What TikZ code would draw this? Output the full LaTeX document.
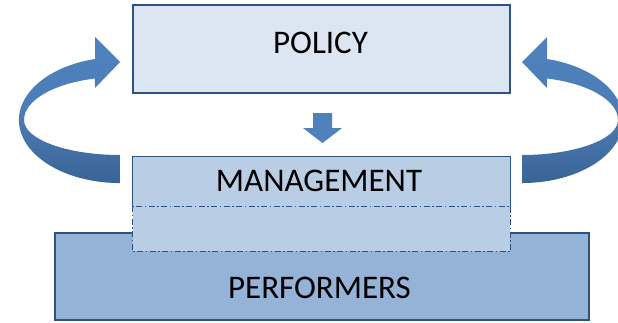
\documentclass[tikz,border=0pt]{standalone}
\usepackage{fontspec}
\setmainfont{Carlito}
\usetikzlibrary{positioning}

\begin{document}
\begin{tikzpicture}[x=1pt, y=1pt,
        box/.style={rectangle, inner sep=0pt, line width=1.3pt, draw=rama},
        eticheta/.style={inner sep=0pt, font=\fontsize{33}{40}\selectfont},
        puncte/.style={line width=1.3pt, draw=rama, dash pattern=on 6pt off 2.5pt on 1.5pt off 2.5pt}]
        \definecolor{rama}{HTML}{2E5186}
        \definecolor{cer}{HTML}{DCE6F2}
        \definecolor{mijloc}{HTML}{B9CDE5}
        \definecolor{jos}{HTML}{95B3D7}
        \definecolor{sageata}{HTML}{4F81BD}
        \definecolor{umbra}{HTML}{3A6496}
        \useasboundingbox (0,0) rectangle (618,322);

        % blocks
        \node[box, fill=jos, minimum width=534, minimum height=87] (perf) at (322,45.5) {};
        \node[box, fill=mijloc, draw=none, minimum width=377, minimum height=50] (mgmt) at (321.5,140) {};
        \node[box, fill=mijloc, draw=none, minimum width=377, minimum height=44] (extra) at (321.5,93) {};
        \draw[puncte] (extra.north west) rectangle (extra.south east);
        \draw[line width=1.3pt, draw=rama] (mgmt.south west) |- (mgmt.north east) -- (mgmt.south east);
        \node[box, fill=cer, minimum width=377, minimum height=88] (policy) at (321.5,273) {};

        \node[eticheta] (tpolicy) at (320.5,279.5) {POLICY};
        \node[eticheta] (tmgmt) at (319,141) {MANAGEMENT};
        \node[eticheta] (tperf) at (319.5,34.5) {PERFORMERS};

        % small arrow down
        \fill[sageata] (313,209) -- (332,209) -- (332,194) -- (342,194) -- (322.5,179)
            -- (303,194) -- (313,194) -- cycle;

        % the two loops
        \foreach \sx/\dx in {1/0, -1/642} {
            \begin{scope}[xshift=\dx, xscale=\sx]
                \shade[top color=sageata, bottom color=umbra, middle color=sageata!85!umbra]
                    (120,167) arc[start angle=270, end angle=180, x radius=96, y radius=35]
                    arc[start angle=180, end angle=105.1, x radius=96, y radius=43]
                    -- (95,234) -- (120,260) -- (95,285) -- (95,263)
                    arc[start angle=104.3, end angle=270, x radius=101, y radius=63]
                    -- cycle;
            \end{scope}
        }
    \end{tikzpicture}
\end{document}
